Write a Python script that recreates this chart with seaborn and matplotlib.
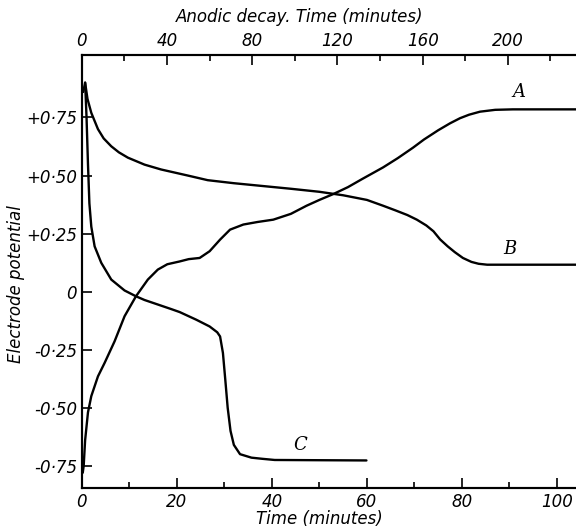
import seaborn as sns
import matplotlib.pyplot as plt
from matplotlib.ticker import MultipleLocator, FixedLocator

# curve A
a_time = [0.2, 0.4, 0.7, 1.3, 2.0, 3.4, 4.8, 6.9, 9.0, 11.4, 13.9, 16.0, 18.0, 20.6,
          22.5, 24.8, 26.9, 29.1, 31.2, 34.0, 37.0, 40.3, 44.0, 47.3, 50.0, 52.9, 56.0,
          59.0, 63.4, 66.5, 69.7, 72.0, 75.0, 77.5, 79.6, 81.5, 83.8, 87.0, 90.7, 104]
a_pot = [-0.78, -0.75, -0.64, -0.52, -0.45, -0.365, -0.307, -0.214, -0.106, -0.02, 0.052,
         0.095, 0.118, 0.13, 0.14, 0.145, 0.174, 0.224, 0.267, 0.289, 0.30, 0.31, 0.335,
         0.37, 0.395, 0.42, 0.45, 0.485, 0.535, 0.575, 0.62, 0.655, 0.695, 0.725, 0.747,
         0.762, 0.775, 0.783, 0.785, 0.785]

# curve B
b_time = [0.3, 0.7, 1.2, 2.0, 3.4, 4.6, 6.2, 7.8, 9.7, 13.2, 16.7, 22.3, 26.5, 32, 38, 44,
          50, 55, 60, 63.4, 66, 68.5, 70.5, 72.5, 74, 75.4, 77, 78.5, 80.2, 82, 83.5, 85.3, 104]
b_pot = [0.86, 0.90, 0.83, 0.77, 0.70, 0.66, 0.626, 0.60, 0.577, 0.547, 0.526, 0.50, 0.48,
         0.467, 0.455, 0.443, 0.43, 0.415, 0.395, 0.37, 0.35, 0.33, 0.31, 0.285, 0.26,
         0.225, 0.195, 0.17, 0.145, 0.128, 0.12, 0.116, 0.116]

# curve C
c_time = [0.7, 1.0, 1.3, 1.6, 2.0, 2.7, 4.1, 6.2, 9.0, 11.4, 13.2, 15.5, 18.8, 20.6, 24.1,
          26.9, 28.5, 29.1, 29.7, 30.2, 30.7, 31.3, 32.0, 33.3, 35.7, 38.0, 40.6, 50, 59.9]
c_pot = [0.90, 0.75, 0.55, 0.38, 0.28, 0.195, 0.124, 0.052, 0.005, -0.02, -0.036, -0.052,
         -0.075, -0.088, -0.121, -0.15, -0.175, -0.193, -0.264, -0.38, -0.50, -0.60, -0.66,
         -0.70, -0.715, -0.72, -0.725, -0.726, -0.727]

y_ticks = [-0.75, -0.5, -0.25, 0, 0.25, 0.5, 0.75]
y_labels = ['-0·75', '-0·50', '-0·25', '0', '+0·25', '+0·50', '+0·75']

sns.set_style('ticks')
plt.rcParams['font.family'] = ['DejaVu Sans']
plt.rcParams['font.style'] = 'italic'
for key in ('text.color', 'axes.labelcolor', 'xtick.color', 'ytick.color'):
    plt.rcParams[key] = 'black'

fig = plt.figure(figsize=(5.76, 5.32), dpi=100)
ax = fig.add_axes([0.142, 0.083, 0.858, 0.814])

for t, p in [(a_time, a_pot), (b_time, b_pot), (c_time, c_pot)]:
    sns.lineplot(x=t, y=p, ax=ax, color='black', linewidth=1.7,
                 estimator=None, sort=False)

ax.set_xlim(0, 104)
ax.set_ylim(-0.845, 1.02)
ax.xaxis.set_major_locator(MultipleLocator(20))
ax.xaxis.set_minor_locator(MultipleLocator(10))
ax.yaxis.set_major_locator(FixedLocator(y_ticks))
ax.set_yticklabels(y_labels)
ax.tick_params(which='both', direction='in', labelsize=12, width=1.2)
ax.tick_params(which='major', length=7)
ax.tick_params(which='minor', length=4)
ax.set_xlabel('Time (minutes)', fontsize=12)
ax.xaxis.set_label_coords(0.48, -0.052)
ax.set_ylabel('Electrode potential', fontsize=12)
ax.yaxis.set_label_coords(-0.115, 0.47)

top = ax.twiny()
top.set_xlim(0, 232)
top.xaxis.set_major_locator(MultipleLocator(40))
top.xaxis.set_minor_locator(MultipleLocator(20))
top.tick_params(which='both', direction='in', labelsize=12, width=1.2)
top.tick_params(which='major', length=7)
top.tick_params(which='minor', length=4)
top.set_xlabel('Anodic decay. Time (minutes)', fontsize=12)
top.xaxis.set_label_coords(0.44, 1.075)

for a in (ax, top):
    a.spines['right'].set_visible(False)
    for s in ('left', 'bottom', 'top'):
        a.spines[s].set_linewidth(1.5)
        a.spines[s].set_color('black')

ax.text(92, 0.84, 'A', fontsize=13, family='DejaVu Serif', style='italic', ha='center')
ax.text(90, 0.16, 'B', fontsize=13, family='DejaVu Serif', style='italic', ha='center')
ax.text(46, -0.68, 'C', fontsize=13, family='DejaVu Serif', style='italic', ha='center')

fig.savefig('out.png', dpi=100)
